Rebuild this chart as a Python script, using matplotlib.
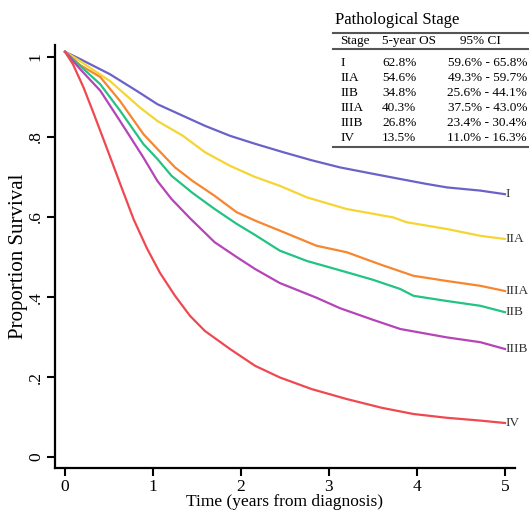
import matplotlib
matplotlib.use('Agg')
import matplotlib.pyplot as plt
from matplotlib.lines import Line2D

plt.rcParams['font.family'] = ['Liberation Serif', 'DejaVu Serif']

# survival curves (time in years, proportion surviving)
t_I = [0, 0.17, 0.51, 0.81, 1.05, 1.34, 1.59, 1.875, 2.16, 2.48, 2.8, 3.125, 3.5, 3.81, 4.1, 4.34, 4.72, 5.0]
s_I = [1.013, 0.995, 0.957, 0.916, 0.882, 0.853, 0.828, 0.803, 0.783, 0.762, 0.742, 0.724, 0.708, 0.695, 0.683, 0.674, 0.666, 0.657]

t_IIA = [0, 0.17, 0.51, 0.85, 1.05, 1.34, 1.59, 1.875, 2.16, 2.44, 2.75, 3.2, 3.73, 3.88, 4.34, 4.72, 5.0]
s_IIA = [1.013, 0.99, 0.94, 0.874, 0.84, 0.803, 0.762, 0.728, 0.70, 0.678, 0.649, 0.62, 0.599, 0.587, 0.57, 0.553, 0.545]

t_IIIA = [0, 0.17, 0.40, 0.625, 0.89, 1.05, 1.25, 1.45, 1.70, 1.95, 2.16, 2.44, 2.86, 3.2, 3.6, 3.96, 4.34, 4.72, 5.0]
s_IIIA = [1.013, 0.98, 0.95, 0.89, 0.8075, 0.77, 0.724, 0.69, 0.653, 0.612, 0.591, 0.566, 0.528, 0.512, 0.48, 0.453, 0.44, 0.428, 0.415]

t_IIB = [0, 0.17, 0.40, 0.625, 0.89, 1.05, 1.21, 1.45, 1.70, 1.95, 2.16, 2.44, 2.75, 3.2, 3.5, 3.81, 3.96, 4.34, 4.72, 5.0]
s_IIB = [1.013, 0.978, 0.932, 0.866, 0.7825, 0.745, 0.703, 0.66, 0.62, 0.583, 0.555, 0.516, 0.49, 0.462, 0.443, 0.42, 0.403, 0.39, 0.378, 0.362]

t_IIIB = [0, 0.17, 0.40, 0.625, 0.89, 1.05, 1.21, 1.42, 1.70, 1.95, 2.16, 2.44, 2.86, 3.125, 3.5, 3.81, 4.34, 4.72, 5.0]
s_IIIB = [1.013, 0.97, 0.916, 0.84, 0.749, 0.69, 0.645, 0.597, 0.537, 0.50, 0.47, 0.435, 0.398, 0.372, 0.343, 0.32, 0.299, 0.287, 0.27]

t_IV = [0, 0.09, 0.21, 0.32, 0.47, 0.625, 0.78, 0.93, 1.08, 1.25, 1.42, 1.59, 1.875, 2.16, 2.44, 2.8, 3.2, 3.6, 3.96, 4.34, 4.72, 5.0]
s_IV = [1.013, 0.982, 0.924, 0.862, 0.775, 0.684, 0.594, 0.522, 0.46, 0.403, 0.353, 0.315, 0.27, 0.228, 0.199, 0.17, 0.145, 0.123, 0.1075, 0.098, 0.091, 0.085]

names = ['I', 'IIA', 'IIIA', 'IIB', 'IIIB', 'IV']
times = [t_I, t_IIA, t_IIIA, t_IIB, t_IIIB, t_IV]
curves = [s_I, s_IIA, s_IIIA, s_IIB, s_IIIB, s_IV]
colors = ['#6b62c8', '#f5d533', '#f7862f', '#22c383', '#b444b8', '#f04850']

# table in the corner
tab_stage = ['I', 'IIA', 'IIB', 'IIIA', 'IIIB', 'IV']
tab_os = ['62.8%', '54.6%', '34.8%', '40.3%', '26.8%', '13.5%']
tab_ci = ['59.6% - 65.8%', '49.3% - 59.7%', '25.6% - 44.1%',
          '37.5% - 43.0%', '23.4% - 30.4%', '11.0% - 16.3%']

W, H = 529, 517
fig = plt.figure(figsize=(W / 100, H / 100), dpi=100)
ax = fig.add_axes([55 / W, 1 - 468 / H, (515 - 55) / W, (468 - 45) / H])

for name, x, y, c in zip(names, times, curves, colors):
    ax.plot(x, y, color=c, lw=1.6)
    ax.text(5.01, y[-1], name, color='#333333', fontsize=9.5, va='center', ha='left')

ax.set_xlim(-0.114, 5.114)
ax.set_ylim(-0.0275, 1.03)
ax.set_xticks([0, 1, 2, 3, 4, 5])
ax.set_yticks([0, 0.2, 0.4, 0.6, 0.8, 1])
ax.set_yticklabels(['0', '.2', '.4', '.6', '.8', '1'], rotation=90, va='center')
ax.tick_params(length=6, width=1.5, labelsize=12.5, pad=2, colors='black')
for s in ['top', 'right']:
    ax.spines[s].set_visible(False)
for s in ['left', 'bottom']:
    ax.spines[s].set_linewidth(1.6)
ax.set_xlabel('Time (years from diagnosis)', fontsize=12.5, labelpad=-1)
ax.set_ylabel('Proportion Survival', fontsize=15, labelpad=0)

def fx(px):
    return px / W

def fy(py):
    return 1 - py / H

fs = 9.5
fig.text(fx(335), fy(20), 'Pathological Stage', fontsize=12, va='center', ha='left')
fig.text(fx(340), fy(41), 'Stage', fontsize=fs, va='center')
fig.text(fx(382), fy(41), '5-year OS', fontsize=fs, va='center')
fig.text(fx(480), fy(41), '95% CI', fontsize=fs, va='center', ha='center')
for i in range(len(tab_stage)):
    yy = fy(63 + i * 15)
    fig.text(fx(340), yy, tab_stage[i], fontsize=fs, va='center')
    fig.text(fx(382), yy, tab_os[i], fontsize=fs, va='center')
    fig.text(fx(527), yy, tab_ci[i], fontsize=fs, va='center', ha='right')
for py in [33, 49, 147]:
    fig.add_artist(Line2D([fx(333), 1], [fy(py), fy(py)], color='#555555', lw=1.5))

fig.savefig('out.png', dpi=100)
